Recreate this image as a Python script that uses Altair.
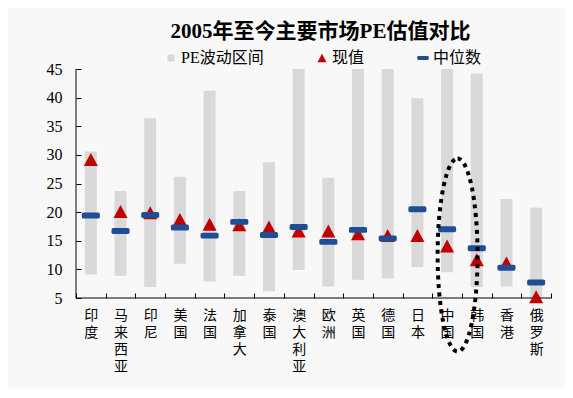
import altair as alt
import pandas as pd

# ---------------- data ----------------
countries = ["印度", "马来西亚", "印尼", "美国", "法国", "加拿大", "泰国", "澳大利亚",
             "欧洲", "英国", "德国", "日本", "中国", "韩国", "香港", "俄罗斯"]
pe_low = [9.1, 8.9, 6.9, 11.0, 7.9, 8.9, 6.2, 9.9, 7.0, 8.2, 8.4, 10.4, 9.5, 6.9, 7.0, 5.0]
pe_high = [30.6, 23.7, 36.4, 26.2, 41.2, 23.7, 28.7, 45.0, 26.0, 45.0, 45.0, 39.9, 45.0, 44.2, 22.3, 20.8]
current = [29.2, 20.1, 19.9, 18.7, 17.9, 17.8, 17.4, 16.7, 16.7, 16.2, 15.9, 15.9, 14.1, 11.7, 11.1, 5.2]
median = [19.4, 16.7, 19.5, 17.3, 15.9, 18.3, 16.0, 17.4, 14.8, 16.9, 15.4, 20.5, 17.0, 13.7, 10.3, 7.7]

series = ["PE波动区间", "现值", "中位数"]
y_ticks = [5, 10, 15, 20, 25, 30, 35, 40, 45]
title_text = "2005年至今主要市场PE估值对比"

# annotation: dotted loop around China / Korea
highlight_country = ["中国"]
highlight_center = [12.5]

# ---------------- styles ----------------
colors = ["#d9d9d9", "#c00000", "#1f4e96"]
SQUARE = "M-0.5,-0.5H0.5V0.5H-0.5Z"
TRI = "M0,-0.59L0.64,0.59L-0.64,0.59Z"
DASH = ("M-0.67,-0.27H0.67Q0.82,-0.27 0.82,-0.12V0.12Q0.82,0.27 0.67,0.27"
        "H-0.67Q-0.82,0.27 -0.82,0.12V-0.12Q-0.82,-0.27 -0.67,-0.27Z")
ELLIPSE = ("M0,-1C0.114,-1 0.207,-0.552 0.207,0C0.207,0.552 0.114,1 0,1"
           "C-0.114,1 -0.207,0.552 -0.207,0C-0.207,-0.552 -0.114,-1 0,-1Z")
FONT = "'Liberation Serif', 'Noto Sans CJK SC', serif"

df_range = pd.DataFrame({"国家": countries, "低": pe_low, "高": pe_high, "类型": series[0]})
df_cur = pd.DataFrame({"国家": countries, "值": current, "类型": series[1]})
df_med = pd.DataFrame({"国家": countries, "值": median, "类型": series[2]})
df_hl = pd.DataFrame({"国家": highlight_country, "值": highlight_center})

xscale = alt.Scale(domain=countries, paddingInner=0, paddingOuter=0)
yscale = alt.Scale(domain=[5, 45], nice=False, zero=False)
cscale = alt.Scale(domain=series, range=colors)
sscale = alt.Scale(domain=series, range=[SQUARE, TRI, DASH])

legend = alt.Legend(title=None, orient="none", legendX=87, legendY=-19,
                    direction="horizontal", columns=3, columnPadding=50,
                    labelFont=FONT, labelFontSize=16, labelColor="black",
                    symbolSize=196, labelOffset=2, symbolStrokeWidth=0)

x_axis = alt.Axis(title=None, labelAngle=0, labelExpr="split(datum.label, '')",
                  labelBaseline="top", labelLineHeight=17, labelFontSize=14,
                  labelFont=FONT, labelColor="black", tickBand="extent",
                  ticks=True, tickSize=5, tickColor="black", domain=False,
                  offset=-5, labelPadding=10, grid=False)
y_axis = alt.Axis(title=None, values=y_ticks, tickSize=5, tickColor="black",
                  offset=-5, domain=False, labelPadding=14, labelFontSize=16,
                  labelFont=FONT, labelColor="black", grid=False)

X = alt.X("国家:N", sort=countries, scale=xscale, axis=x_axis)

bars = alt.Chart(df_range).mark_bar(width=12).encode(
    x=X,
    y=alt.Y("低:Q", scale=yscale, axis=y_axis),
    y2="高:Q",
    color=alt.Color("类型:N", scale=cscale, legend=legend),
)

xline = alt.Chart(alt.Data(values=[{}])).mark_rule(color="black", strokeWidth=1).encode(
    y=alt.YDatum(5, scale=yscale, axis=y_axis)
)
yline = alt.Chart(alt.Data(values=[{}])).mark_rule(color="black", strokeWidth=1).encode(
    x=alt.value(0)
)

def points(df):
    return alt.Chart(df).mark_point(filled=True, opacity=1, size=484, strokeWidth=0).encode(
        x=X,
        y=alt.Y("值:Q", scale=yscale, axis=y_axis),
        color=alt.Color("类型:N", scale=cscale, legend=legend),
        shape=alt.Shape("类型:N", scale=sscale, legend=legend),
    )

loop = alt.Chart(df_hl).mark_point(shape=ELLIPSE, size=37249, filled=False, color="black",
                                   stroke="black", strokeWidth=4, strokeDash=[4, 4.5],
                                   opacity=1, xOffset=10.5).encode(
    x=X,
    y=alt.Y("值:Q", scale=yscale, axis=y_axis),
)

chart = alt.layer(bars, xline, yline, points(df_cur), points(df_med), loop).properties(
    width=475, height=229,
    title=alt.TitleParams(title_text, font=FONT, fontSize=21, fontWeight="bold",
                          color="black", anchor="middle", dx=7, offset=8),
    autosize=alt.AutoSizeParams(type="none"),
    padding={"left": 68, "top": 61, "right": 14, "bottom": 90},
    background="#f8f8f8",
).configure_view(strokeWidth=0)

chart.save("out.html", embed_options={"renderer": "svg", "actions": False})
